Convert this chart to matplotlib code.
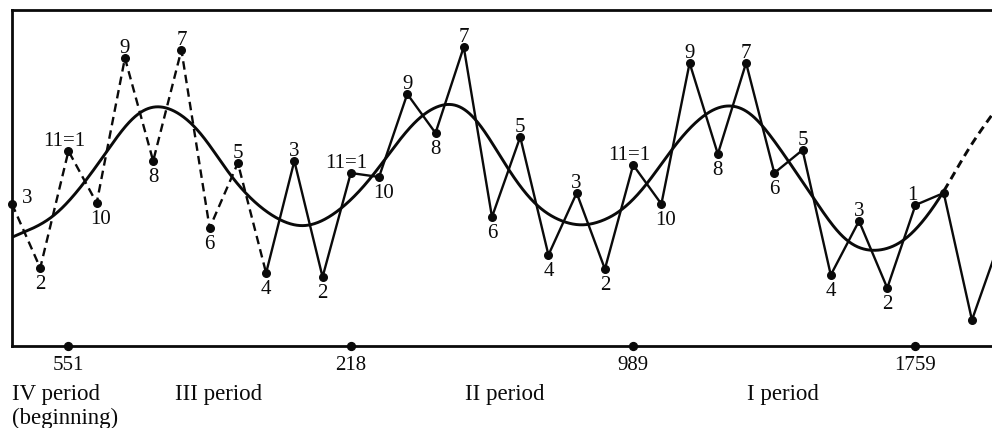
import numpy as np
import matplotlib
matplotlib.use("Agg")
import matplotlib.pyplot as plt
from matplotlib.transforms import blended_transform_factory

# ---------------- data ----------------
steps = list(range(36))
levels = [142, 78, 195, 143, 288, 185, 296, 118, 183, 73,
          185, 69, 173, 169, 252, 213, 299, 129, 209, 91,
          153, 77, 181, 142, 283, 192, 283, 173, 196, 71,
          125, 58, 141, 153, 26, 106]
point_labels = ["3", "2", "11=1", "10", "9", "8", "7", "6", "5", "4",
                "3", "2", "11=1", "10", "9", "8", "7", "6", "5", "4",
                "3", "2", "11=1", "10", "9", "8", "7", "6", "5", "4",
                "3", "2", "1", "", ""]
dashed_until = 9          # zigzag is dashed from step 0 to this step

curve_x = [0.00, 1.45, 2.59, 3.47, 4.29, 5.24, 6.55, 7.83, 9.03, 10.20,
           10.91, 11.72, 12.68, 13.39, 13.99, 14.45, 15.34, 15.87, 16.57, 17.64,
           18.70, 20.12, 20.83, 21.53, 22.49, 23.41, 24.37, 25.18, 26.03, 26.60,
           27.55, 28.51, 29.43, 30.39, 31.56, 32.41, 33.00, 33.82, 34.71]
curve_y = [109, 128, 164, 199, 231, 242, 219, 166, 133, 118,
           123, 138, 166, 194, 216, 231, 244, 243, 224, 173,
           136, 119, 124, 133, 161, 199, 229, 242, 238, 221,
           183, 143, 106, 94, 103, 129, 153, 196, 231]
curve_dashed_from = 36    # knot index where the curve becomes dashed

tick_steps = [2, 12, 22, 32]
tick_labels = ["551", "218", "989", "1759"]

period_labels = ["IV period", "III period", "II period", "I period"]
period_pos = [0.0, 7.3, 17.45, 27.3]
sub_label = "(beginning)"

# ---------------- helpers ----------------
def smooth_curve(xs, ys, n=40, sigma=0.45):
    xs = np.asarray(xs, float)
    ys = np.asarray(ys, float)
    m = np.empty_like(ys)
    m[1:-1] = (ys[2:] - ys[:-2]) / (xs[2:] - xs[:-2])
    m[0] = (ys[1] - ys[0]) / (xs[1] - xs[0])
    m[-1] = (ys[-1] - ys[-2]) / (xs[-1] - xs[-2])
    X, Y = [], []
    for i in range(len(xs) - 1):
        h = xs[i + 1] - xs[i]
        t = np.linspace(0, 1, n, endpoint=False)
        h00 = 2 * t ** 3 - 3 * t ** 2 + 1
        h10 = t ** 3 - 2 * t ** 2 + t
        h01 = -2 * t ** 3 + 3 * t ** 2
        h11 = t ** 3 - t ** 2
        X.append(xs[i] + t * h)
        Y.append(h00 * ys[i] + h10 * h * m[i] + h01 * ys[i + 1] + h11 * h * m[i + 1])
    X.append([xs[-1]])
    Y.append([ys[-1]])
    X = np.concatenate(X)
    Y = np.concatenate(Y)
    xu = np.linspace(xs[0], xs[-1], 2000)
    yu = np.interp(xu, X, Y)
    dx = xu[1] - xu[0]
    k = np.arange(-int(4 * sigma / dx), int(4 * sigma / dx) + 1) * dx
    w = np.exp(-0.5 * (k / sigma) ** 2)
    w /= w.sum()
    pad = len(k) // 2
    left = yu[0] - (yu[1] - yu[0]) * np.arange(pad, 0, -1)
    right = yu[-1] + (yu[-1] - yu[-2]) * np.arange(1, pad + 1)
    ys_s = np.convolve(np.concatenate([left, yu, right]), w, mode="valid")
    return xu, ys_s

# ---------------- figure ----------------
plt.rcParams["font.family"] = ["Liberation Serif", "DejaVu Serif"]
fig = plt.figure(figsize=(9.92, 4.28), dpi=100)
fig.patch.set_facecolor("white")
ax = fig.add_axes([12 / 992, 82 / 428, 980 / 992, 336 / 428])
ax.set_xlim(0, 34.71)
ax.set_ylim(0, 336)
ink = "#0a0a0a"

for s in ["left", "top", "bottom"]:
    ax.spines[s].set_linewidth(2.0)
    ax.spines[s].set_color(ink)
ax.spines["right"].set_visible(False)
ax.set_yticks([])

# zigzag
x = np.array(steps, float)
y = np.array(levels, float)
ax.plot(x[:dashed_until + 1], y[:dashed_until + 1], color=ink, lw=1.7,
        linestyle=(0, (3.6, 2.2)), zorder=3)
ax.plot(x[dashed_until:], y[dashed_until:], color=ink, lw=1.7, zorder=3)
nvis = len(point_labels)
ax.scatter(x[:nvis], y[:nvis], s=30, color=ink, zorder=4, clip_on=False)

# smooth curve
cx, cy = smooth_curve(curve_x, curve_y)
cut = np.searchsorted(cx, curve_x[curve_dashed_from])
ax.plot(cx[:cut + 1], cy[:cut + 1], color=ink, lw=2.1, zorder=2)
ax.plot(cx[cut:], cy[cut:], color=ink, lw=2.1,
        linestyle=(0, (2.8, 1.8)), zorder=2.6)

# point labels
fs = 15
for i, lab in enumerate(point_labels):
    if not lab:
        continue
    if i == 0:
        ax.annotate(lab, (x[i], y[i]), xytext=(7, 0.7), textcoords="offset points",
                    ha="left", va="baseline", fontsize=fs, color=ink)
        continue
    dx = 0
    if lab == "11=1":
        dx = -3
    elif lab == "10":
        dx = 3
    elif lab == "1":
        dx = -2
    if i % 2 == 0:
        ax.annotate(lab, (x[i], y[i]), xytext=(dx, 3.5), textcoords="offset points",
                    ha="center", va="baseline", fontsize=fs, color=ink)
    else:
        ax.annotate(lab, (x[i], y[i]), xytext=(dx, -5), textcoords="offset points",
                    ha="center", va="top", fontsize=fs, color=ink)

# x axis ticks
ax.set_xticks(tick_steps)
ax.set_xticklabels(tick_labels, fontsize=15, color=ink)
ax.tick_params(axis="x", length=0, pad=7)
ax.scatter(tick_steps, [0] * len(tick_steps), s=32, color=ink, zorder=5, clip_on=False)

# period labels
tr = blended_transform_factory(ax.transData, fig.transFigure)
for lab, px in zip(period_labels, period_pos):
    ax.text(px, 1 - 400 / 428, lab, transform=tr, fontsize=16.5, color=ink,
            ha="left" if px == period_pos[0] else "center", va="baseline")
ax.text(period_pos[0], 1 - 424 / 428, sub_label, transform=tr, fontsize=16.5,
        color=ink, ha="left", va="baseline")

fig.savefig("out.png", dpi=100, facecolor="white")
